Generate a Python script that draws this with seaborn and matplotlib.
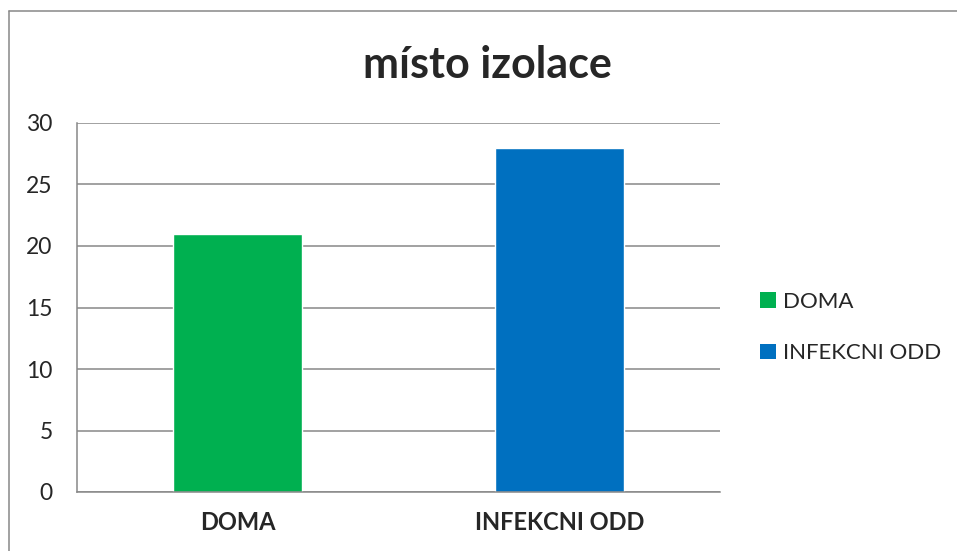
import matplotlib
matplotlib.use("Agg")
import matplotlib.pyplot as plt
import seaborn as sns
from matplotlib.patches import Patch
from matplotlib.lines import Line2D

# data
categories = ["DOMA", "INFEKCNI ODD"]
values = [21, 28]
colors = ["#00B050", "#0070C0"]
title = "místo izolace"

sns.set_style("white")
plt.rcParams["font.family"] = ["Lato", "DejaVu Sans"]

fig = plt.figure(figsize=(9.57, 5.51), dpi=100)
ax = fig.add_axes([77 / 957, 59 / 551, 643 / 957, 369 / 551])

sns.barplot(x=categories, y=values, hue=categories, palette=colors,
            width=0.4, legend=False, ax=ax, saturation=1)

grid_c = "#888888"
ax.set_xlim(-0.5, 1.5)
ax.set_ylim(0, 30)
ax.set_yticks(range(0, 31, 5))
ax.yaxis.grid(True, color=grid_c, linewidth=1.1)
ax.set_axisbelow(True)
for s in ["top", "right"]:
    ax.spines[s].set_visible(False)
for s in ["left", "bottom"]:
    ax.spines[s].set_color(grid_c)
    ax.spines[s].set_linewidth(1.1)

ax.tick_params(axis="y", direction="out", length=6.5, width=1.1, color=grid_c,
               labelsize=16.5, pad=11)
ax.set_xticks([-0.5, 0.5, 1.5], minor=True)
ax.tick_params(axis="x", which="minor", direction="out", length=5, width=1.1, color=grid_c)
ax.tick_params(axis="x", which="major", length=0, labelsize=17, pad=14)
for lbl in ax.get_xticklabels():
    lbl.set_fontweight("bold")
ax.set_xlabel("")
ax.set_ylabel("")

fig.text(487 / 957, 1 - 65 / 551, title, ha="center", va="center",
         fontsize=31, fontweight="bold")

handles = [Patch(facecolor=c, edgecolor="none") for c in colors]
fig.legend(handles, categories, loc="upper left", bbox_to_anchor=(740 / 957, 1 - 272 / 551),
           frameon=False, fontsize=16, handlelength=0.7, handleheight=0.7,
           handletextpad=0.35, labelspacing=1.4)

# outer chart frame
fig.add_artist(Line2D([8.5 / 957, 8.5 / 957], [0, 1 - 11 / 551], color=grid_c, linewidth=1.1))
fig.add_artist(Line2D([8.5 / 957, 1], [1 - 11 / 551, 1 - 11 / 551], color=grid_c, linewidth=1.1))

fig.savefig("out.png", dpi=100)
